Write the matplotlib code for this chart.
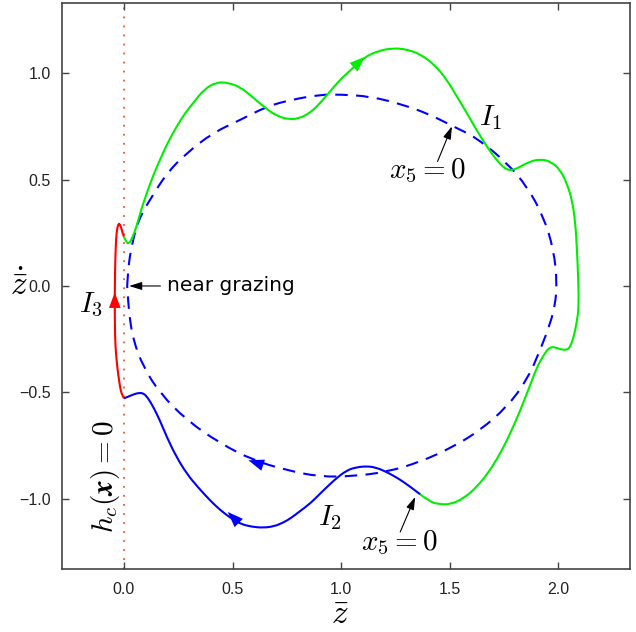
import matplotlib
matplotlib.use("Agg")
import matplotlib.pyplot as plt
from matplotlib.path import Path
from matplotlib.patches import PathPatch

plt.rcParams['mathtext.fontset'] = 'cm'
plt.rcParams['font.family'] = ['Liberation Sans', 'DejaVu Sans']

# 虚线 x5 = 0 的闭合曲线
dash_x = [0.015, 0.02, 0.035, 0.058, 0.085, 0.12, 0.197, 0.289, 0.41, 0.535, 0.658, 0.77,
          0.903, 0.995, 1.134, 1.286, 1.41, 1.516, 1.625, 1.764, 1.856, 1.932, 1.979,
          1.994, 1.985, 1.963, 1.917, 1.856, 1.764, 1.64, 1.516, 1.364, 1.21, 1.055,
          0.903, 0.75, 0.595, 0.442, 0.289, 0.166, 0.089, 0.043, 0.028, 0.02, 0.015]
dash_y = [0.0, 0.09, 0.185, 0.28, 0.345, 0.405, 0.53, 0.625, 0.72, 0.78, 0.844, 0.875,
          0.899, 0.9, 0.891, 0.852, 0.805, 0.75, 0.696, 0.578, 0.467, 0.326, 0.169,
          0.014, -0.09, -0.175, -0.30, -0.442, -0.568, -0.678, -0.756, -0.827, -0.874, -0.894,
          -0.897, -0.866, -0.819, -0.739, -0.631, -0.504, -0.38, -0.254, -0.16, -0.08, 0.0]

# I1 (绿色)
g_x = [0.0, 0.01, 0.02, 0.035, 0.058, 0.08, 0.105, 0.135, 0.166, 0.2, 0.243, 0.28, 0.319,
       0.37, 0.427, 0.48, 0.535, 0.59, 0.642, 0.70, 0.765, 0.81, 0.842, 0.875, 0.903,
       0.95, 0.995, 1.05, 1.103, 1.17, 1.241, 1.30, 1.364, 1.43, 1.487, 1.53, 1.579,
       1.625, 1.671, 1.72, 1.764, 1.80, 1.825, 1.87, 1.917, 1.965, 2.009, 2.04, 2.063,
       2.078, 2.086, 2.092, 2.094, 2.085, 2.071, 2.055, 2.04, 2.01, 1.978, 1.962, 1.948,
       1.93, 1.902, 1.865, 1.825, 1.78, 1.733, 1.68, 1.625, 1.565, 1.502, 1.45, 1.41, 1.364]
g_y = [0.232, 0.208, 0.198, 0.215, 0.279, 0.36, 0.436, 0.52, 0.593, 0.67, 0.75, 0.81, 0.86,
       0.925, 0.958, 0.955, 0.935, 0.89, 0.844, 0.80, 0.781, 0.79, 0.805, 0.83, 0.86,
       0.915, 0.969, 1.02, 1.072, 1.105, 1.118, 1.112, 1.09, 1.04, 0.969, 0.895, 0.813,
       0.73, 0.655, 0.585, 0.543, 0.548, 0.561, 0.585, 0.596, 0.585, 0.546, 0.48, 0.405,
       0.30, 0.169, 0.02, -0.10, -0.17, -0.239, -0.285, -0.301, -0.298, -0.286, -0.29, -0.301,
       -0.33, -0.38, -0.48, -0.584, -0.69, -0.787, -0.875, -0.944, -0.998, -1.027, -1.025, -1.015, -0.979]

# I2 (蓝色实线)
b_x = [1.364, 1.32, 1.272, 1.21, 1.16, 1.118, 1.07, 1.026, 0.97, 0.903, 0.86, 0.811, 0.77,
       0.734, 0.69, 0.642, 0.59, 0.535, 0.488, 0.44, 0.396, 0.34, 0.289, 0.24, 0.197,
       0.165, 0.135, 0.11, 0.089, 0.065, 0.043, 0.02, 0.0]
b_y = [-0.979, -0.945, -0.91, -0.874, -0.853, -0.847, -0.852, -0.866, -0.91, -0.976, -1.02,
       -1.058, -1.09, -1.112, -1.13, -1.136, -1.132, -1.118, -1.088, -1.05, -1.007, -0.945,
       -0.882, -0.8, -0.709, -0.63, -0.568, -0.525, -0.503, -0.503, -0.51, -0.52, -0.528]

# I3 (红色)
r_x = [0.0, -0.01, -0.018, -0.027, -0.034, -0.039, -0.041, -0.042, -0.042, -0.041, -0.039,
       -0.036, -0.032, -0.026, -0.02, -0.013, -0.006, 0.0]
r_y = [-0.528, -0.51, -0.474, -0.41, -0.348, -0.28, -0.222, -0.127, -0.035, 0.05, 0.15,
       0.22, 0.265, 0.29, 0.293, 0.275, 0.25, 0.232]


def smooth_curve(ax, xs, ys, **kw):
    # 用读取的点作为二次贝塞尔控制点画平滑曲线
    pts = list(zip(xs, ys))
    verts = [pts[0]]
    codes = [Path.MOVETO]
    for i in range(1, len(pts) - 1):
        mid = ((pts[i][0] + pts[i + 1][0]) / 2, (pts[i][1] + pts[i + 1][1]) / 2)
        if i == len(pts) - 2:
            mid = pts[-1]
        verts += [pts[i], mid]
        codes += [Path.CURVE3, Path.CURVE3]
    ax.add_patch(PathPatch(Path(verts, codes), fill=False, capstyle='butt', **kw))


fig = plt.figure(figsize=(6.36, 6.32), dpi=100)
ax = fig.add_axes([0.0975, 0.0997, 0.8931, 0.8956])

ax.axvline(0, color='#ee5a2a', linestyle=(0, (1, 4)), linewidth=1.3, zorder=1)
smooth_curve(ax, dash_x, dash_y, edgecolor='blue', linewidth=1.5,
             linestyle=(0, (6, 4)), zorder=2)
smooth_curve(ax, g_x, g_y, edgecolor='#00ee00', linewidth=1.5, zorder=3)
smooth_curve(ax, b_x, b_y, edgecolor='blue', linewidth=1.5, zorder=3)
smooth_curve(ax, r_x, r_y, edgecolor='red', linewidth=1.5, zorder=3)


# 曲线上的箭头
def head(tip, tail, c):
    ax.annotate('', xy=tip, xytext=tail,
                arrowprops=dict(arrowstyle='-|>,head_length=0.8,head_width=0.3',
                                color=c, lw=0, mutation_scale=14,
                                shrinkA=0, shrinkB=0), zorder=4)


head((1.11, 1.077), (1.07, 1.04), '#00ee00')
head((0.573, -0.819), (0.62, -0.835), 'blue')
head((0.478, -1.062), (0.52, -1.105), 'blue')
head((-0.042, -0.03), (-0.042, -0.08), 'red')


def pointer(tip, tail):
    ax.annotate('', xy=tip, xytext=tail,
                arrowprops=dict(arrowstyle='-|>,head_length=0.7,head_width=0.22',
                                color='black', lw=0.8, mutation_scale=11,
                                shrinkA=0, shrinkB=0))


# 文字标注
ax.text(1.69, 0.79, r'$I_1$', fontsize=21, ha='center', va='center')
ax.text(0.95, -1.09, r'$I_2$', fontsize=21, ha='center', va='center')
ax.text(-0.15, -0.09, r'$I_3$', fontsize=21, ha='center', va='center')
ax.text(1.40, 0.54, r'$x_5=0$', fontsize=21, ha='center', va='center')
pointer((1.51, 0.75), (1.444, 0.585))
ax.text(1.27, -1.205, r'$x_5=0$', fontsize=21, ha='center', va='center')
pointer((1.341, -0.991), (1.272, -1.156))
ax.text(0.2, 0.0, 'near grazing', fontsize=14.5, family='DejaVu Sans',
        ha='left', va='center')
pointer((0.024, 0.0), (0.168, 0.0))
ax.text(-0.087, -0.895, r'$h_c(\boldsymbol{x})=0$', fontsize=21, rotation=90,
        ha='center', va='center')

ax.set_xlim(-0.285, 2.33)
ax.set_ylim(-1.33, 1.33)
ax.set_xticks([0.0, 0.5, 1.0, 1.5, 2.0])
ax.set_yticks([-1.0, -0.5, 0.0, 0.5, 1.0])
ax.tick_params(direction='in', top=True, right=True, length=5, width=1,
               color='#444444', labelsize=11.5, labelcolor='#222222', pad=8)
ax.tick_params(axis='x', pad=9.5)
for s in ax.spines.values():
    s.set_color('#444444')
    s.set_linewidth(1.2)

ax.set_xlabel(r'$\bar{z}$', fontsize=24, va='center')
ax.xaxis.set_label_coords(0.49, -0.083)
ax.set_ylabel(r'$\dot{\bar{z}}$', fontsize=24, rotation=0, ha='center', va='center')
ax.yaxis.set_label_coords(-0.076, 0.5)

fig.savefig('out.png', dpi=100)
